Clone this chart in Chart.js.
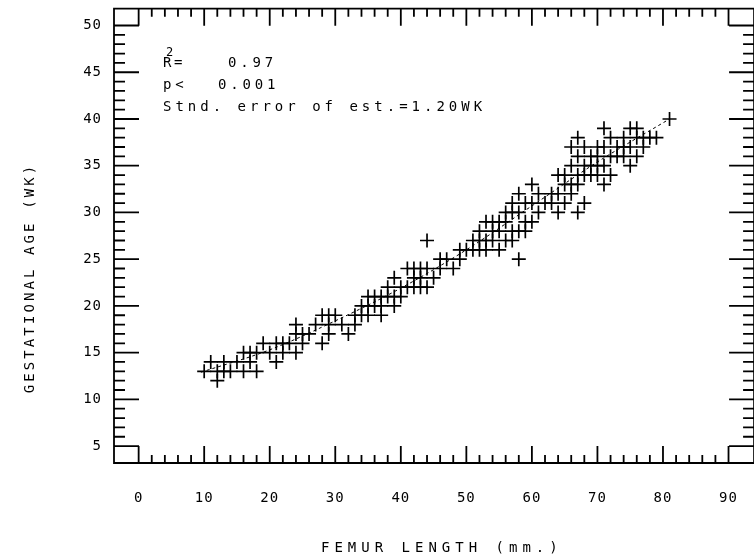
<!DOCTYPE html>
<html>
<head>
<meta charset="utf-8">
<script src="https://cdn.jsdelivr.net/npm/chart.js@4"></script>
<style>
  html, body { margin: 0; padding: 0; background: #fff; overflow: hidden; }
  #wrap { width: 754px; height: 560px; }
</style>
</head>
<body>
<div id="wrap"><canvas id="myChart"></canvas></div>
<script>
// femur length (mm) and gestational age (wk)
const femurMm = [
  10, 11, 12, 12, 13, 13, 14, 15, 16, 16, 17, 17, 18, 18, 19,
  20, 21, 21, 22, 22, 23, 24, 24, 24, 25, 25, 26, 27, 28, 28, 29, 29, 29,
  30, 31, 32, 33, 33, 34, 34, 35, 35, 35, 36, 36, 37, 37, 37, 38, 38, 39, 39, 39,
  40, 40, 41, 41, 42, 42, 42, 43, 43, 43, 44, 44, 44, 45, 46, 46, 47, 48, 49, 49,
  50, 51, 51, 52, 52, 52, 53, 53, 53, 54, 54, 54, 55, 55, 55, 56, 56, 56, 57, 57, 57, 57, 58, 58, 58, 58, 59, 59, 59,
  60, 60, 60, 61, 61, 62, 63, 63, 64, 64, 64, 65, 65, 65, 66, 66, 66, 66, 67, 67, 67, 67, 67, 68, 68, 68, 68, 69, 69, 69,
  70, 70, 70, 70, 71, 71, 71, 71, 72, 72, 72, 73, 73, 74, 74, 74, 75, 75, 75, 76, 76, 76, 77, 77, 78, 79, 81
];
const gestWk = [
  13, 14, 12, 13, 14, 13, 13, 14, 15, 13, 15, 14, 15, 13, 16,
  15, 16, 14, 16, 15, 16, 18, 17, 15, 17, 16, 17, 18, 19, 16, 19, 18, 17,
  19, 18, 17, 19, 18, 20, 19, 21, 20, 19, 21, 20, 21, 20, 19, 22, 21, 23, 21, 20,
  22, 21, 24, 22, 24, 23, 22, 24, 23, 22, 27, 24, 22, 23, 25, 24, 25, 24, 26, 25,
  26, 27, 26, 28, 27, 26, 29, 27, 26, 29, 28, 27, 29, 28, 26, 30, 29, 27, 31, 30, 28, 27, 32, 30, 28, 25, 31, 29, 28,
  33, 31, 29, 32, 30, 31, 32, 31, 34, 32, 30, 34, 33, 31, 37, 35, 33, 32, 38, 36, 34, 33, 30, 37, 35, 34, 31, 36, 35, 34,
  37, 36, 35, 34, 39, 37, 35, 33, 38, 36, 34, 37, 36, 38, 37, 36, 39, 37, 35, 39, 38, 36, 38, 37, 38, 38, 40
];
// dashed regression curve, points read along it
const fitX = [9.5, 20, 30, 40, 50, 60, 70, 81];
const fitY = [12.9, 15.3, 18.4, 21.9, 26.0, 30.7, 35.4, 40];
const xTicks = [0, 10, 20, 30, 40, 50, 60, 70, 80, 90];
const yTicks = [5, 10, 15, 20, 25, 30, 35, 40, 45, 50];

const FONT = '14px "DejaVu Sans Mono", "Liberation Mono", monospace';

function text(ctx, s, x, y, spacing) {
    ctx.letterSpacing = spacing + 'px';
    ctx.fillText(s, x, y);
}

const framePlugin = {
    id: 'frame',
    beforeDraw(chart) {
        chart.ctx.letterSpacing = '1px';
    },
    afterDraw(chart) {
        const ctx = chart.ctx;
        const x = chart.scales.x, y = chart.scales.y;
        const L = chart.chartArea.left, T = chart.chartArea.top, B = chart.chartArea.bottom;
        const R = x.getPixelForValue(93.9);
        ctx.save();
        ctx.strokeStyle = '#000';
        ctx.lineWidth = 1.8;
        ctx.beginPath();
        ctx.rect(L, T, R - L, B - T);
        for (let v = 0; v <= 90; v += 2) {
            const px = x.getPixelForValue(v);
            const len = v % 10 === 0 ? 17 : 8;
            ctx.moveTo(px, B); ctx.lineTo(px, B - len);
            ctx.moveTo(px, T); ctx.lineTo(px, T + len);
        }
        for (let v = 5; v <= 50; v++) {
            const py = y.getPixelForValue(v);
            const len = v % 5 === 0 ? 25 : 11;
            ctx.moveTo(L, py); ctx.lineTo(L + len, py);
            ctx.moveTo(R, py); ctx.lineTo(R - len, py);
        }
        ctx.stroke();

        ctx.fillStyle = '#000';
        ctx.font = FONT;
        ctx.textBaseline = 'middle';
        ctx.textAlign = 'left';
        text(ctx, 'R', 163, 63, 0);
        text(ctx, '=', 174, 63, 0);
        ctx.font = '12px "DejaVu Sans Mono", monospace';
        text(ctx, '2', 166, 53, 0);
        ctx.font = FONT;
        text(ctx, '0.97', 228, 63, 3.8);
        text(ctx, 'p<', 163, 85, 3.8);
        text(ctx, '0.001', 218, 85, 3.8);
        text(ctx, 'Stnd. error of est.=1.20WK', 163, 107, 4.0);

        text(ctx, 'FEMUR LENGTH (mm.)', 321, 548, 5.0);

        ctx.translate(30, 280);
        ctx.rotate(-Math.PI / 2);
        ctx.textAlign = 'center';
        text(ctx, 'GESTATIONAL AGE (WK)', 2, 0, 3.1);
        ctx.restore();
    }
};

const points = femurMm.map((v, i) => ({ x: v, y: gestWk[i] }));
const fitLine = fitX.map((v, i) => ({ x: v, y: fitY[i] }));

new Chart(document.getElementById('myChart'), {
    type: 'scatter',
    data: {
        datasets: [{
            data: points,
            pointStyle: 'cross',
            pointRadius: 7,
            borderColor: '#000',
            borderWidth: 1.7,
            backgroundColor: '#000'
        }, {
            type: 'line',
            data: fitLine,
            borderColor: '#000',
            borderWidth: 1,
            borderDash: [3, 3],
            cubicInterpolationMode: 'monotone',
            pointRadius: 0,
            fill: false
        }]
    },
    options: {
        responsive: true,
        maintainAspectRatio: false,
        animation: false,
        events: [],
        layout: { padding: { top: 7, right: 0, left: 0, bottom: 0 } },
        plugins: { legend: { display: false }, tooltip: { enabled: false } },
        scales: {
            x: {
                type: 'linear',
                min: -3.76,
                max: 92.56,
                grid: { display: false, drawTicks: false },
                border: { display: false },
                afterBuildTicks: s => { s.ticks = xTicks.map(v => ({ value: v })); },
                afterFit: s => { s.height = 97; s.paddingLeft = 0; s.paddingRight = 0; },
                ticks: {
                    font: { family: '"DejaVu Sans Mono"', size: 14 },
                    color: '#000',
                    padding: 27,
                    maxRotation: 0,
                    autoSkip: false
                }
            },
            y: {
                type: 'linear',
                min: 3.19,
                max: 51.8,
                grid: { display: false, drawTicks: false },
                border: { display: false },
                afterBuildTicks: s => { s.ticks = yTicks.map(v => ({ value: v })); },
                afterFit: s => { s.width = 114; s.paddingTop = 0; s.paddingBottom = 0; },
                ticks: {
                    font: { family: '"DejaVu Sans Mono"', size: 14 },
                    color: '#000',
                    padding: 12,
                    autoSkip: false
                }
            }
        }
    },
    plugins: [framePlugin]
});
</script>
</body>
</html>
